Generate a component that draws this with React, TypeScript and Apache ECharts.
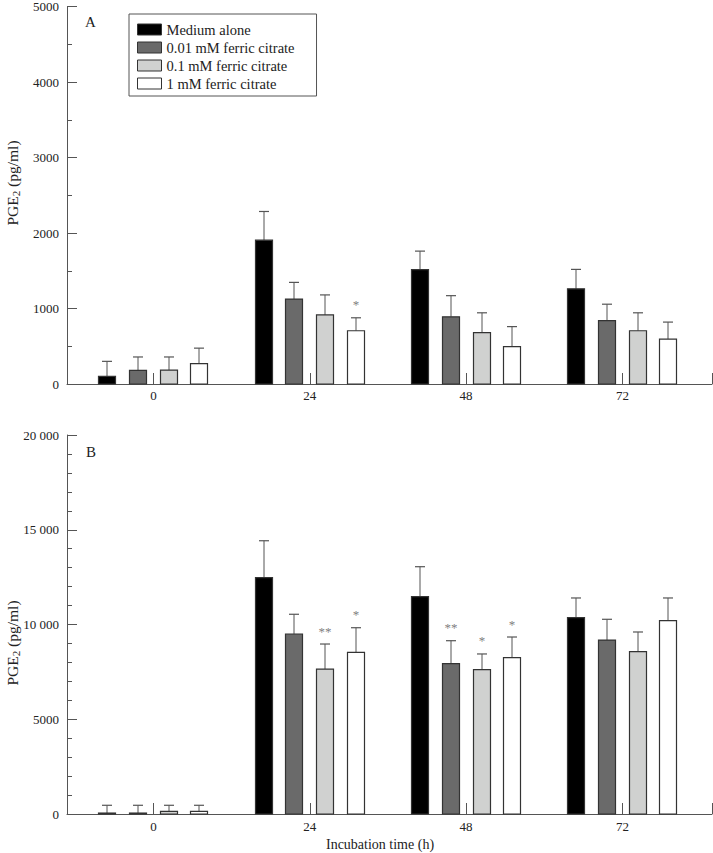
import React, { useEffect, useRef } from "react";
import * as echarts from "echarts";

// ---- data ----
const categories = ["0", "24", "48", "72"];
const seriesNames = [
  "Medium alone",
  "0.01 mM ferric citrate",
  "0.1 mM ferric citrate",
  "1 mM ferric citrate",
];
const seriesColors = ["#000000", "#6a6a6a", "#d0d1d0", "#ffffff"];

// Panel A (PGE2 pg/ml): means and SD
const aMedium = [100, 1905, 1515, 1260];
const aFc001 = [180, 1125, 890, 840];
const aFc01 = [185, 915, 680, 705];
const aFc1 = [270, 705, 495, 595];
const aMediumSd = [200, 380, 245, 258];
const aFc001Sd = [178, 221, 280, 217];
const aFc01Sd = [173, 265, 263, 238];
const aFc1Sd = [205, 172, 265, 225];
const aMediumSig = ["", "", "", ""];
const aFc001Sig = ["", "", "", ""];
const aFc01Sig = ["", "", "", ""];
const aFc1Sig = ["", "*", "", ""];

// Panel B
const bMedium = [50, 12470, 11470, 10360];
const bFc001 = [50, 9500, 7940, 9180];
const bFc01 = [140, 7650, 7620, 8570];
const bFc1 = [140, 8530, 8250, 10200];
const bMediumSd = [410, 1950, 1580, 1040];
const bFc001Sd = [410, 1040, 1205, 1095];
const bFc01Sd = [320, 1320, 825, 1035];
const bFc1Sd = [320, 1300, 1090, 1200];
const bMediumSig = ["", "", "", ""];
const bFc001Sig = ["", "", "**", ""];
const bFc01Sig = ["", "**", "*", ""];
const bFc1Sig = ["", "*", "*", ""];

const yTicksA = [0, 1000, 2000, 3000, 4000, 5000];
const yTicksB = [0, 5000, 10000, 15000, 20000];

const FONT = "Liberation Serif";
const X_MIN = -0.5534;
const X_MAX = 3.5733;
const OFFSETS = [-46, -15.5, 15.5, 46];
const BAR_W = 17;
const SIG_COLOR = "#808080";

export default function App() {
  const ref = useRef<HTMLDivElement>(null);

  useEffect(() => {
    if (!ref.current) return;
    const chart = echarts.init(ref.current, null, { renderer: "svg" });

    const panels = [
      {
        means: [aMedium, aFc001, aFc01, aFc1],
        sds: [aMediumSd, aFc001Sd, aFc01Sd, aFc1Sd],
        sigs: [aMediumSig, aFc001Sig, aFc01Sig, aFc1Sig],
      },
      {
        means: [bMedium, bFc001, bFc01, bFc1],
        sds: [bMediumSd, bFc001Sd, bFc01Sd, bFc1Sd],
        sigs: [bMediumSig, bFc001Sig, bFc01Sig, bFc1Sig],
      },
    ];

    const series: any[] = [];
    panels.forEach((p, pi) => {
      for (let s = 0; s < 4; s++) {
        const data = categories.map((_, i) => [i, p.means[s][i], p.sds[s][i]]);
        const sigArr = p.sigs[s];
        const off = OFFSETS[s];
        const color = seriesColors[s];
        series.push({
          type: "custom",
          name: seriesNames[s],
          xAxisIndex: pi,
          yAxisIndex: pi,
          data,
          clip: false,
          itemStyle: { color: SIG_COLOR },
          renderItem: (params: any, api: any) => {
            const xi = api.value(0);
            const v = api.value(1);
            const sd = api.value(2);
            const base = api.coord([xi, 0]);
            const top = api.coord([xi, v]);
            const et = api.coord([xi, v + sd]);
            const cx = Math.round(base[0] + off);
            const children: any[] = [
              {
                type: "line",
                shape: { x1: cx, y1: top[1], x2: cx, y2: et[1] },
                style: { stroke: "#555", lineWidth: 1 },
              },
              {
                type: "line",
                shape: { x1: cx - 5, y1: et[1], x2: cx + 5, y2: et[1] },
                style: { stroke: "#555", lineWidth: 1.2 },
              },
              {
                type: "rect",
                shape: {
                  x: cx - BAR_W / 2,
                  y: top[1],
                  width: BAR_W,
                  height: base[1] - top[1],
                },
                style: { fill: color, stroke: "#333", lineWidth: 1.2 },
              },
            ];
            const sig = sigArr[params.dataIndex];
            if (sig) {
              children.push({
                type: "text",
                x: cx,
                y: et[1] - 13,
                style: {
                  text: sig,
                  fill: SIG_COLOR,
                  fontFamily: FONT,
                  fontSize: 13,
                  align: "center",
                  verticalAlign: "middle",
                },
              });
            }
            return { type: "group", children };
          },
        });
      }
    });

    const xAxisCommon = (labelMargin: number) => ({
      type: "value",
      min: X_MIN,
      max: X_MAX,
      splitLine: { show: false },
      axisLine: { show: true, onZero: false, lineStyle: { color: "#555", width: 1 } },
      axisTick: {
        show: true,
        inside: true,
        length: 11,
        customValues: [0, 1, 2, 3, X_MAX],
        lineStyle: { color: "#555" },
      },
      axisLabel: {
        customValues: [0, 1, 2, 3],
        formatter: (v: number) => categories[Math.round(v)] ?? "",
        color: "#222",
        fontFamily: FONT,
        fontSize: 13,
        margin: labelMargin,
      },
    });

    const yAxisCommon = (max: number, interval: number, minorSplit: number, fmt: (v: number) => string) => ({
      type: "value",
      min: 0,
      max,
      interval,
      splitLine: { show: false },
      axisLine: { show: true, onZero: false, lineStyle: { color: "#555", width: 1 } },
      axisTick: { show: true, inside: true, length: 10, lineStyle: { color: "#555" } },
      minorTick: { show: true, splitNumber: minorSplit, length: 5, lineStyle: { color: "#555" } },
      axisLabel: {
        color: "#222",
        fontFamily: FONT,
        fontSize: 13,
        margin: 8,
        formatter: fmt,
      },
    });

    const fmtB = (v: number) => {
      if (v >= 10000) {
        const s = String(v);
        return s.slice(0, s.length - 3) + " " + s.slice(s.length - 3);
      }
      return String(v);
    };

    const yTitle = (y: number) => ({
      type: "text",
      x: 12,
      y,
      rotation: Math.PI / 2,
      style: {
        text: "{a|PGE}{s|2}{a| (pg/ml)}",
        align: "center",
        verticalAlign: "middle",
        rich: {
          a: { fontFamily: FONT, fontSize: 15.5, fill: "#222", color: "#222" },
          s: { fontFamily: FONT, fontSize: 11, fill: "#222", color: "#222", padding: [7, 0, 0, 0] },
        },
      },
    });

    chart.setOption({
      animation: false,
      backgroundColor: "#fff",
      grid: [
        { left: 67, right: 1, top: 4, bottom: 469, containLabel: false },
        { left: 67, right: 1, top: 435, bottom: 39, containLabel: false },
      ],
      xAxis: [
        { ...xAxisCommon(5), gridIndex: 0 },
        { ...xAxisCommon(6), gridIndex: 1 },
      ],
      yAxis: [
        { ...yAxisCommon(yTicksA[yTicksA.length - 1], 1000, 2, (v: number) => String(v)), gridIndex: 0 },
        { ...yAxisCommon(yTicksB[yTicksB.length - 1], 5000, 5, fmtB), gridIndex: 1 },
      ],
      legend: {
        show: true,
        orient: "vertical",
        left: 129,
        top: 14,
        itemWidth: 24,
        itemHeight: 11,
        itemGap: 3,
        padding: [8, 22, 5, 8],
        borderColor: "#555",
        borderWidth: 1,
        selectedMode: false,
        textStyle: { fontFamily: FONT, fontSize: 14.5, color: "#222" },
        data: seriesNames.map((n, i) => ({
          name: n,
          icon: "rect",
          itemStyle: { color: seriesColors[i], borderColor: "#333", borderWidth: 1 },
        })),
      },
      graphic: [
        {
          type: "text",
          x: 85,
          y: 22,
          style: { text: "A", fontFamily: FONT, fontSize: 15, fill: "#222", verticalAlign: "middle" },
        },
        {
          type: "text",
          x: 86,
          y: 452,
          style: { text: "B", fontFamily: FONT, fontSize: 15, fill: "#222", verticalAlign: "middle" },
        },
        {
          type: "text",
          x: 380,
          y: 844,
          style: {
            text: "Incubation time (h)",
            fontFamily: FONT,
            fontSize: 14,
            fill: "#222",
            align: "center",
            verticalAlign: "middle",
          },
        },
        yTitle(183),
        yTitle(643),
      ],
      series,
    });

    return () => chart.dispose();
  }, []);

  return <div ref={ref} style={{ width: 713, height: 853, position: "absolute", left: 0, top: 0 }} />;
}
